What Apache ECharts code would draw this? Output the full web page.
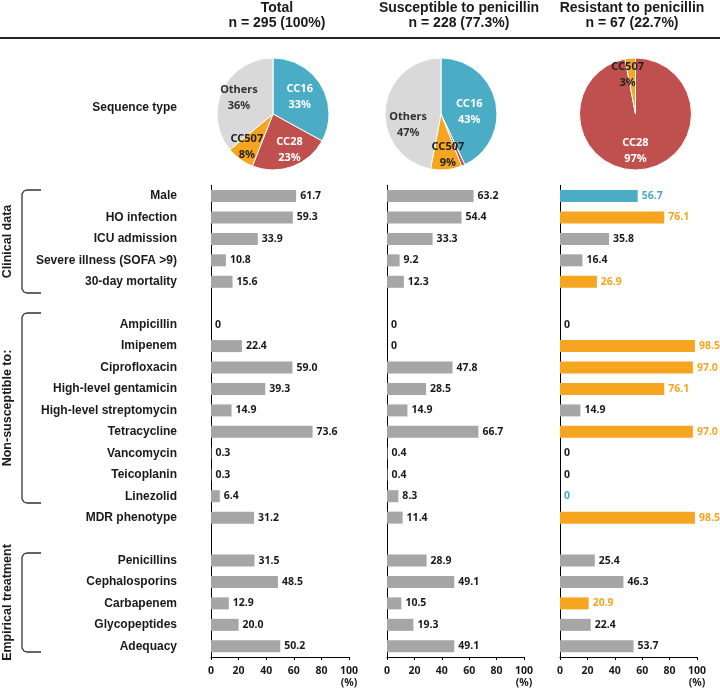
<!DOCTYPE html>
<html>
<head>
<meta charset="utf-8">
<script src="https://cdn.jsdelivr.net/npm/echarts@6/dist/echarts.min.js"></script>
<style>
html,body{margin:0;padding:0;background:#fff;}
#c{width:720px;height:689px;}
</style>
</head>
<body>
<div id="c"></div>
<script>
// ---------- data ----------
const categories = ['Male','HO infection','ICU admission','Severe illness (SOFA >9)','30-day mortality',' ',
  'Ampicillin','Imipenem','Ciprofloxacin','High-level gentamicin','High-level streptomycin','Tetracycline',
  'Vancomycin','Teicoplanin','Linezolid','MDR phenotype','  ',
  'Penicillins','Cephalosporins','Carbapenem','Glycopeptides','Adequacy'];
const totalValues = [61.7,59.3,33.9,10.8,15.6,'-',0,22.4,59.0,39.3,14.9,73.6,0.3,0.3,6.4,31.2,'-',31.5,48.5,12.9,20.0,50.2];
const susValues   = [63.2,54.4,33.3,9.2,12.3,'-',0,0,47.8,28.5,14.9,66.7,0.4,0.4,8.3,11.4,'-',28.9,49.1,10.5,19.3,49.1];
const resValues   = [56.7,76.1,35.8,16.4,26.9,'-',0,98.5,97.0,76.1,14.9,97.0,0,0,0,98.5,'-',25.4,46.3,20.9,22.4,53.7];
// significant difference of resistant group: 'high' / 'low' / ''
const resDifference = ['low','high','','','high','','','high','high','high','','high','','','low','high','','','','high','',''];
const columnTitles = ['Total\nn = 295 (100%)','Susceptible to penicillin\nn = 228 (77.3%)','Resistant to penicillin\nn = 67 (22.7%)'];
const stNames = ['CC16','CC28','CC507','Others'];
const stTotal = [33,23,8,36];
const stSus = [43,1,9,47];
const stRes = [0,97,3,0];
const xTicks = [0,20,40,60,80,100];
const groupNames = ['Clinical data','Non-susceptible to:','Empirical treatment'];

// ---------- styles ----------
const GRAY = '#a6a6a6', ORANGE = '#f6a521', BLUE = '#4bacc6', RED = '#c0504d', LIGHT = '#d9d9d9';
const DARK = '#1a1a1a';
const stColors = [BLUE, RED, ORANGE, LIGHT];
const stLabelColors = ['#fff','#fff','#222','#333'];
const valFont = '"Noto Sans", "DejaVu Sans", sans-serif';
const catFont = '"Liberation Sans", Arial, sans-serif';

const colLeft = [211, 387, 560];
const colWidth = [138, 137, 137];
const pieCenters = [[273,114],[441,114],[635.5,114]];
const pieOffsets = [
  [[0,-1],[6,7],[-8,8],[-6,-3]],
  [[-2,5],[0,0],[4,10],[-2,14]],
  [[0,0],[-3,6],[-5,-8],[0,0]]
];

function fmt(v){ return v === 0 ? '0' : Number(v).toFixed(1); }

const grids = [], xAxes = [], yAxes = [], series = [];
const colVals = [totalValues, susValues, resValues];
for (let i = 0; i < 3; i++) {
  grids.push({left: colLeft[i], width: colWidth[i], top: 185.3, bottom: 31.3, containLabel: false});
  xAxes.push({
    type: 'value', gridIndex: i, min: xTicks[0], max: xTicks[xTicks.length-1], interval: 20,
    splitLine: {show: false},
    axisLine: {show: true, lineStyle: {color: '#000', width: 1}},
    axisTick: {show: true, length: 3, lineStyle: {color: '#000'}},
    axisLabel: {
      margin: 8, fontSize: 10.5, fontWeight: 'bold', fontFamily: valFont, color: DARK, lineHeight: 12,
      formatter: v => v === 100 ? '100\n(%)' : String(v)
    }
  });
  yAxes.push({
    type: 'category', gridIndex: i, data: categories, inverse: true,
    axisLine: {show: true, lineStyle: {color: '#000', width: 1}},
    axisTick: {show: false},
    axisLabel: i === 0 ? {show: true, margin: 34, fontSize: 12, fontWeight: 'bold', fontFamily: catFont, color: DARK} : {show: false}
  });
  const vals = colVals[i];
  const data = vals.map((v, k) => {
    if (i === 2 && resDifference[k]) {
      const col = resDifference[k] === 'high' ? ORANGE : BLUE;
      return {value: v, itemStyle: {color: col}, label: {color: col}};
    }
    return {value: v};
  });
  series.push({
    type: 'bar', xAxisIndex: i, yAxisIndex: i, data: data, barWidth: 12,
    itemStyle: {color: GRAY}, silent: true, animation: false,
    label: {show: true, position: 'right', distance: 4, fontSize: 10.5, fontWeight: 'bold', fontFamily: valFont, color: DARK,
      formatter: p => fmt(p.value)}
  });
}

const pieSets = [stTotal, stSus, stRes];
for (let i = 0; i < 3; i++) {
  series.push({
    type: 'pie', center: pieCenters[i], radius: 56, startAngle: 90, clockwise: true,
    animation: false, silent: true, avoidLabelOverlap: false,
    itemStyle: {borderColor: '#fff', borderWidth: 1},
    label: {show: true, position: 'inside', fontSize: 11, fontWeight: 'bold', fontFamily: valFont, lineHeight: 16,
      formatter: p => p.name + '\n' + p.value + '%'},
    labelLine: {show: false},
    data: stNames.map((n, k) => ({
      name: n, value: pieSets[i][k],
      itemStyle: {color: stColors[k]},
      label: {show: pieSets[i][k] >= 3, color: stLabelColors[k], offset: pieOffsets[i][k]}
    }))
  });
}

const graphics = [];
// heading rule
graphics.push({type: 'line', shape: {x1: 0, y1: 38, x2: 720, y2: 38}, style: {stroke: '#222', lineWidth: 2}});
const headCenters = [277, 459, 632];
for (let i = 0; i < 3; i++) {
  graphics.push({type: 'text', x: headCenters[i], y: 0,
    style: {text: columnTitles[i], textAlign: 'center', textVerticalAlign: 'top', fontSize: 14, fontWeight: 'bold',
      fontFamily: catFont, fill: DARK, lineHeight: 15.5}});
}
graphics.push({type: 'text', x: 177, y: 108,
  style: {text: 'Sequence type', textAlign: 'right', textVerticalAlign: 'middle', fontSize: 12, fontWeight: 'bold', fontFamily: catFont, fill: DARK}});
// brackets
const brackets = [[190, 293], [313, 503], [553, 652]];
brackets.forEach((b, i) => {
  const [t, btm] = b;
  graphics.push({type: 'polyline',
    shape: {points: [[41, t], [27, t], [24, t + 1], [22, t + 4], [22, btm - 4], [24, btm - 1], [27, btm], [41, btm]]},
    style: {stroke: '#333', lineWidth: 1.3, fill: null}});
  graphics.push({type: 'text', x: 7.5, y: (t + btm) / 2, rotation: Math.PI / 2,
    style: {text: groupNames[i], textAlign: 'center', textVerticalAlign: 'middle', fontSize: 12.5, fontWeight: 'bold', fontFamily: catFont, fill: DARK}});
});

const chart = echarts.init(document.getElementById('c'), null, {renderer: 'canvas'});
chart.setOption({
  backgroundColor: '#fff',
  animation: false,
  grid: grids, xAxis: xAxes, yAxis: yAxes, series: series,
  graphic: graphics
});
</script>
</body>
</html>
